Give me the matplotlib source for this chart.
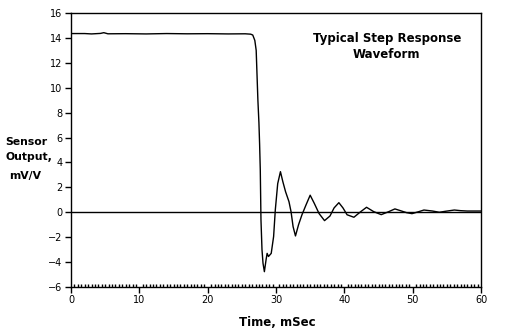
import matplotlib
matplotlib.use("Agg")
from matplotlib import pyplot as plt
from matplotlib.ticker import MultipleLocator

# sampled step response, time in ms, output in mV/V
t_ms = [0.0, 2.0, 3.0, 4.3, 4.8, 5.4, 8.0, 11.0, 14.0, 17.0, 20.0, 23.0, 25.5,
        26.3, 26.6, 26.9, 27.1, 27.2, 27.35, 27.5, 27.6, 27.7, 27.8, 27.95,
        28.1, 28.3, 28.55, 28.7, 28.9, 29.3, 29.65, 29.9, 30.25, 30.65, 31.0,
        31.4, 31.9, 32.2, 32.5, 32.85, 33.3, 33.8, 34.4, 35.0, 35.6, 36.3,
        37.1, 37.9, 38.5, 39.2, 39.8, 40.4, 41.4, 42.4, 43.25, 44.3, 45.4,
        46.5, 47.4, 48.2, 49.1, 49.9, 50.9, 51.65, 52.9, 53.9, 54.8, 56.1,
        57.0, 58.0, 59.5, 60.0]
v_out = [14.35, 14.35, 14.32, 14.36, 14.42, 14.33, 14.34, 14.32, 14.35, 14.33,
         14.34, 14.32, 14.33, 14.30, 14.23, 13.8, 13.0, 11.4, 9.0, 7.2, 5.5,
         3.4, -0.6, -3.0, -4.1, -4.77, -3.8, -3.3, -3.55, -3.3, -1.95, 0.2,
         2.3, 3.26, 2.46, 1.65, 0.85, 0.05, -1.15, -1.9, -1.0, -0.2, 0.6,
         1.37, 0.72, -0.1, -0.67, -0.3, 0.35, 0.77, 0.35, -0.2, -0.4, 0.05,
         0.4, 0.05, -0.19, 0.05, 0.27, 0.13, -0.03, -0.11, 0.05, 0.18, 0.1,
         0.0, 0.08, 0.18, 0.13, 0.1, 0.1, 0.1]

x_ticks = [0, 10, 20, 30, 40, 50, 60]
y_ticks = [-6, -4, -2, 0, 2, 4, 6, 8, 10, 12, 14, 16]

fig = plt.figure(figsize=(5.07, 3.36), dpi=100)
ax = fig.add_axes([71 / 507, 1 - 287 / 336, 410 / 507, 274 / 336])

ax.axhline(0, color="black", linewidth=1.0)
ax.plot(t_ms, v_out, color="black", linewidth=1.0)

ax.set_xlim(0, 60)
ax.set_ylim(-6, 16)
ax.set_xticks(x_ticks)
ax.set_yticks(y_ticks)
ax.set_yticklabels([str(v).replace("-", "\u2212") for v in y_ticks])
ax.xaxis.set_minor_locator(MultipleLocator(0.5))
ax.tick_params(axis="both", which="major", direction="out", length=4,
               width=1, labelsize=7, colors="black", pad=2)
ax.tick_params(axis="x", which="minor", direction="in", length=2.5, width=1)
ax.tick_params(axis="y", which="minor", left=False)
for s in ax.spines.values():
    s.set_linewidth(1.0)

ax.text(0.77, 0.877, "Typical Step Response\nWaveform", transform=ax.transAxes,
        ha="center", va="center", fontsize=8.5, fontweight="bold",
        linespacing=1.3)

lbl = dict(ha="left", va="center", fontsize=7.8, fontweight="bold")
fig.text(5 / 507, 1 - 142 / 336, "Sensor", **lbl)
fig.text(5 / 507, 1 - 157 / 336, "Output,", **lbl)
fig.text(9 / 507, 1 - 176 / 336, "mV/V", **lbl)
fig.text(277 / 507, 1 - 323 / 336, "Time, mSec", ha="center", va="center",
         fontsize=8.5, fontweight="bold")

fig.savefig("out.png", dpi=100)
